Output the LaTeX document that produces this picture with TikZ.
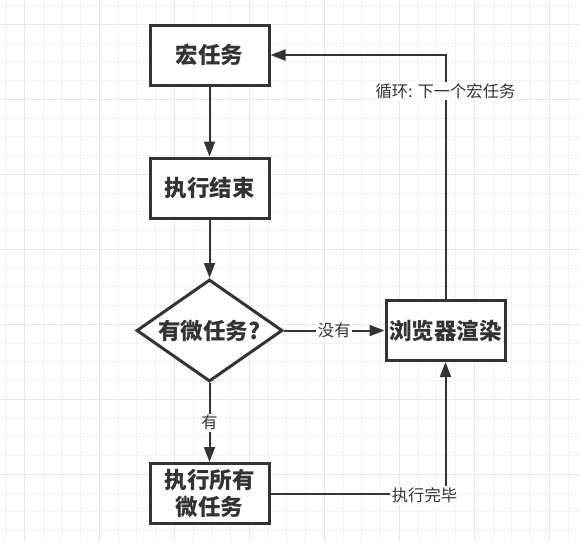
\documentclass[tikz,border=0pt]{standalone}
\usepackage{fontspec}
\newfontfamily\cjk{Noto Sans CJK SC}
\usetikzlibrary{arrows.meta,shapes.geometric}
\definecolor{ink}{HTML}{333333}
\definecolor{gridminor}{HTML}{F3F3F3}
\definecolor{gridmajor}{HTML}{E8E8E8}
\tikzset{
  box/.style={draw=ink, line width=3pt, fill=white, rectangle, inner sep=0pt,
    minimum width=119pt, minimum height=60pt, align=center, text=ink,
    font=\cjk\bfseries\fontsize{22.5pt}{27pt}\selectfont},
  decision/.style={draw=ink, line width=3pt, fill=white, diamond, inner sep=0pt,
    minimum width=146pt, minimum height=102pt},
  bigtext/.style={text=ink, font=\cjk\bfseries\fontsize{22.5pt}{27pt}\selectfont},
  conn/.style={draw=ink, line width=2pt, -{Triangle[length=15pt,width=11pt]}},
  lbl/.style={fill=white, text=ink, inner sep=1.5pt, font=\cjk\fontsize{16.3pt}{19pt}\selectfont},
  gminor/.style={draw=gridminor, line width=1pt},
  gmajor/.style={draw=gridmajor, line width=1pt}
}
\begin{document}
\begin{tikzpicture}[x=1pt,y=-1pt]
\useasboundingbox (0,0) rectangle (580,542);
\fill[white] (0,0) rectangle (580,542);
% grid
\foreach \i in {0,...,30} {
  \draw[gminor] ({5.55+18.75*\i},0) -- ({5.55+18.75*\i},542);
  \draw[gminor] (0,{5.55+18.75*\i}) -- (580,{5.55+18.75*\i});
}
\foreach \i in {0,...,7} {
  \draw[gmajor] ({24.3+75*\i},0) -- ({24.3+75*\i},542);
  \draw[gmajor] (0,{24.3+75*\i}) -- (580,{24.3+75*\i});
}
% nodes
\node[box] (macro) at (209.5,55) {宏任务};
\node[box] (done) at (209.5,188) {执行结束};
\node[decision] (dia) at (209.5,330.5) {};
\node[bigtext] (diat) at (209.5,330.5) {有微任务?};
\node[box] (render) at (445.5,330.5) {浏览器渲染};
\node[box] (micro) at (209.5,493.5) {执行所有\\微任务};
% connectors
\draw[conn] (macro.south) -- (done.north);
\draw[conn] (done.south) -- (dia.north);
\draw[conn] (dia.east) -- node[lbl] {没有} (render.west);
\draw[conn] (dia.south) -- node[lbl] {有} (micro.north);
\draw[conn] (micro.east) -| node[lbl, pos=0.44, yshift=-2pt] {执行完毕} (render.south);
\draw[conn] (render.north) |- node[lbl, pos=0.426] {循环: 下一个宏任务} (macro.east);
\end{tikzpicture}
\end{document}
